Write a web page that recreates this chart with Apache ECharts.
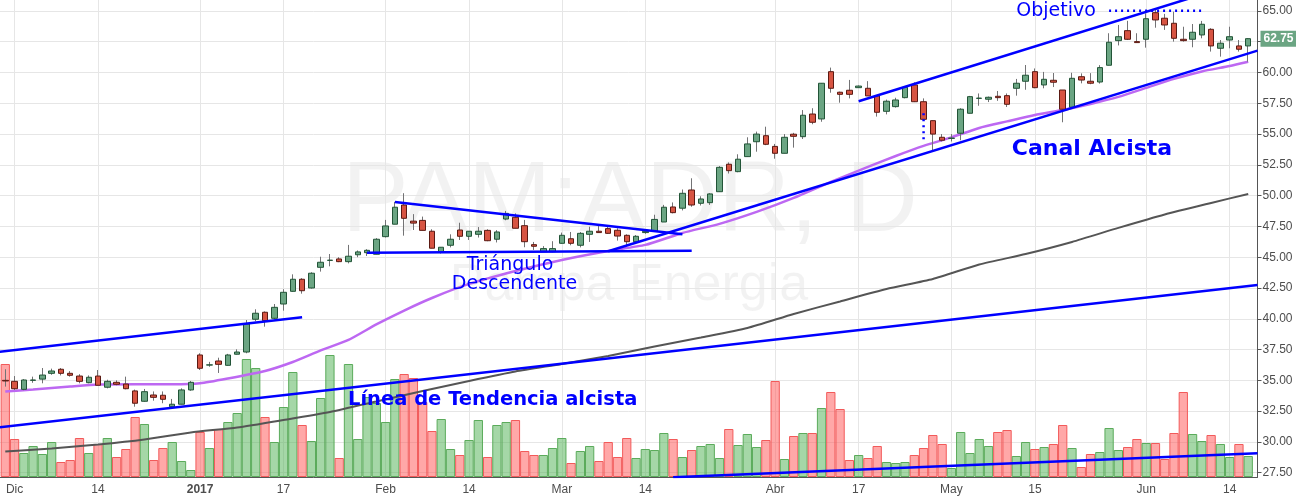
<!DOCTYPE html>
<html><head><meta charset="utf-8">
<script src="https://cdn.jsdelivr.net/npm/echarts@6/dist/echarts.min.js"></script>
<style>html,body{margin:0;padding:0;background:#fff}#c{width:1296px;height:498px}</style>
</head><body><div id="c"></div>
<script>
const dates = ['2016-11-30',
'2016-12-01','2016-12-02','2016-12-05','2016-12-06','2016-12-07','2016-12-08','2016-12-09','2016-12-12','2016-12-13','2016-12-14','2016-12-15','2016-12-16','2016-12-19','2016-12-20','2016-12-21','2016-12-22','2016-12-27','2016-12-28','2016-12-29','2016-12-30',
'2017-01-03','2017-01-04','2017-01-05','2017-01-06','2017-01-09','2017-01-10','2017-01-11','2017-01-12','2017-01-13','2017-01-17','2017-01-18','2017-01-19','2017-01-20','2017-01-23','2017-01-24','2017-01-25','2017-01-26','2017-01-27','2017-01-30','2017-01-31',
'2017-02-01','2017-02-02','2017-02-03','2017-02-06','2017-02-07','2017-02-08','2017-02-09','2017-02-10','2017-02-13','2017-02-14','2017-02-15','2017-02-16','2017-02-17','2017-02-21','2017-02-22','2017-02-23','2017-02-24','2017-02-27','2017-02-28',
'2017-03-01','2017-03-02','2017-03-03','2017-03-06','2017-03-07','2017-03-08','2017-03-09','2017-03-10','2017-03-13','2017-03-14','2017-03-15','2017-03-16','2017-03-17','2017-03-20','2017-03-21','2017-03-22','2017-03-23','2017-03-24','2017-03-27','2017-03-28','2017-03-29','2017-03-30','2017-03-31',
'2017-04-03','2017-04-04','2017-04-05','2017-04-06','2017-04-07','2017-04-10','2017-04-11','2017-04-12','2017-04-13','2017-04-17','2017-04-18','2017-04-19','2017-04-20','2017-04-21','2017-04-24','2017-04-25','2017-04-26','2017-04-27','2017-04-28',
'2017-05-01','2017-05-02','2017-05-03','2017-05-04','2017-05-05','2017-05-09','2017-05-10','2017-05-11','2017-05-12','2017-05-15','2017-05-16','2017-05-17','2017-05-18','2017-05-19','2017-05-22','2017-05-23','2017-05-24','2017-05-25','2017-05-26','2017-05-30','2017-05-31',
'2017-06-01','2017-06-02','2017-06-05','2017-06-06','2017-06-07','2017-06-08','2017-06-09','2017-06-12','2017-06-13','2017-06-14','2017-06-15','2017-06-16'];

const opens = [35.00,
34.92,34.27,35.00,35.10,35.57,35.90,35.57,35.35,34.81,35.35,34.44,34.84,34.70,34.14,33.30,33.81,33.79,32.86,33.06,34.22,
37.06,36.24,36.57,36.22,37.12,37.30,39.96,40.53,40.04,41.20,42.23,43.21,42.50,44.18,44.74,44.86,44.64,45.20,45.37,45.24,
46.67,47.68,49.24,47.93,47.99,47.11,45.45,45.97,47.21,46.70,46.86,47.18,46.46,48.10,48.24,47.56,46.02,45.45,45.45,
46.13,46.50,45.97,46.86,47.11,47.32,47.19,46.78,46.26,47.00,47.10,47.86,49.08,48.98,50.46,49.38,49.43,50.32,52.55,51.95,53.17,54.38,54.87,
54.00,53.44,54.99,54.79,56.63,56.23,60.07,58.40,58.56,58.77,58.72,58.10,56.85,57.23,57.96,58.99,57.63,56.09,54.74,
54.65,55.07,56.69,57.90,57.83,58.07,58.12,58.72,59.29,60.07,58.99,59.37,58.58,57.18,59.66,59.29,59.23,60.59,62.59,63.40,62.51,
62.70,64.86,64.41,64.00,62.70,62.70,63.05,63.51,61.97,62.64,62.16,62.16];

const closes = [34.95,
34.32,35.03,35.03,35.43,35.76,35.57,35.41,34.92,35.25,34.60,34.92,34.68,34.32,33.14,34.08,33.62,33.46,33.06,34.22,34.84,
35.98,36.26,36.30,37.06,37.30,39.58,40.45,39.85,40.93,42.15,43.21,42.28,43.70,44.59,44.76,44.64,45.08,45.43,45.56,46.46,
47.54,49.06,48.16,47.77,47.18,45.73,45.81,46.46,46.70,47.11,47.11,46.34,47.05,48.56,47.35,46.26,45.89,45.70,45.70,
46.78,46.13,46.94,47.11,47.00,46.94,46.72,46.26,46.70,47.10,48.07,49.06,48.62,50.19,49.24,49.73,50.14,52.30,52.03,52.96,54.20,55.00,54.17,
53.44,54.74,54.82,56.53,55.96,59.13,58.72,58.23,58.23,58.90,58.10,56.77,57.67,57.77,58.80,57.63,56.20,55.00,54.50,
54.67,57.02,58.04,57.92,57.99,57.96,57.42,59.13,59.78,58.77,59.45,59.21,57.02,59.53,59.39,59.13,60.40,62.46,62.91,62.70,62.43,
64.37,64.27,63.86,62.78,62.59,63.27,63.92,62.16,62.38,62.91,61.89,62.75];

const lows = [34.49,
34.22,34.20,34.80,34.76,35.45,35.40,35.30,34.76,34.76,34.60,34.35,34.60,34.27,32.86,33.27,33.35,33.14,32.80,33.06,34.15,
35.84,36.10,35.60,36.20,37.10,37.20,39.80,39.36,39.95,40.66,42.20,42.04,42.45,43.83,44.26,44.60,44.50,45.00,45.10,45.24,
46.60,47.68,46.75,47.21,47.18,45.73,45.30,45.80,46.40,46.40,46.60,46.30,46.20,48.00,47.35,45.81,45.59,45.45,45.40,
46.10,45.97,45.80,46.24,47.00,46.90,46.35,45.97,46.24,46.90,47.10,47.86,48.56,48.80,49.10,49.20,49.25,50.32,51.80,51.90,53.17,53.57,54.10,
53.00,53.44,53.90,54.60,55.80,56.00,58.36,57.55,57.90,58.77,58.10,56.42,56.60,57.15,57.90,57.60,56.20,53.70,54.40,
54.40,54.50,56.69,57.30,57.60,57.70,57.20,58.12,58.60,58.72,58.72,58.82,55.96,57.10,59.12,59.05,59.10,60.59,62.20,62.64,62.43,
62.02,63.64,63.46,62.51,62.51,62.05,62.78,61.70,61.29,61.97,61.70,60.88];

const highs = [35.90,
35.35,35.10,35.30,36.00,35.95,36.00,35.75,35.50,35.40,35.84,35.05,35.00,35.30,34.25,34.30,34.10,34.10,33.49,34.35,34.95,
37.20,36.50,36.84,37.15,37.52,39.90,40.77,40.60,41.20,42.40,43.61,43.30,43.78,45.04,45.26,45.00,46.00,45.55,45.65,46.55,
48.03,49.49,50.20,48.50,48.30,47.27,45.81,46.86,47.80,47.11,47.45,47.27,47.20,48.76,48.56,48.03,46.24,45.90,46.30,
47.00,47.05,47.05,47.48,47.55,47.45,47.35,46.86,46.80,47.20,48.45,49.25,49.45,50.50,51.41,49.95,50.20,52.40,52.70,53.36,54.74,55.20,55.60,
54.20,55.00,55.10,56.95,57.10,59.13,60.40,58.45,59.40,58.95,59.30,58.15,57.80,57.95,58.90,59.20,57.90,56.09,55.00,
55.00,57.10,58.10,58.30,58.05,58.50,58.30,59.48,60.61,60.33,60.05,59.96,58.58,59.98,59.93,59.95,60.60,63.19,63.86,64.20,63.19,
64.81,65.08,64.76,64.94,63.72,63.94,64.19,63.60,62.64,63.72,62.64,62.78];

// volume, thousands of shares
const volumes = [565,
190,120,155,115,175,75,85,195,120,165,195,100,140,300,265,85,145,175,80,35,
225,145,240,275,320,590,545,300,175,350,525,260,180,395,610,95,565,190,400,370,
275,490,515,495,375,230,290,140,110,185,285,100,260,275,285,130,110,110,145,
195,70,130,155,80,175,100,195,95,140,135,220,190,100,135,155,165,95,240,160,215,150,185,
480,90,205,220,220,345,425,340,85,110,95,155,75,70,75,110,145,210,165,
45,225,120,190,155,225,235,105,175,140,150,165,260,145,50,115,125,245,135,150,190,
170,170,90,220,425,215,180,210,165,100,165,105];

// moving averages (date, value)
const maPurple = [['2016-11-30',34.09],['2016-12-05',34.26],['2016-12-09',34.50],['2016-12-14',34.66],['2016-12-20',34.68],['2016-12-28',34.68],['2017-01-03',34.76],['2017-01-06',35.15],['2017-01-12',35.76],['2017-01-18',36.49],['2017-01-23',37.43],['2017-01-26',38.28],['2017-01-31',39.54],['2017-02-03',40.67],['2017-02-08',41.69],['2017-02-14',42.83],['2017-02-22',43.88],['2017-03-01',44.78],['2017-03-08',45.51],['2017-03-14',46.00],['2017-03-20',46.97],['2017-03-24',47.71],['2017-03-30',48.68],['2017-04-05',49.82],['2017-04-11',51.12],['2017-04-18',52.33],['2017-04-21',53.22],['2017-04-26',54.04],['2017-05-01',54.73],['2017-05-04',55.50],['2017-05-10',56.03],['2017-05-15',56.55],['2017-05-18',56.96],['2017-05-23',57.45],['2017-05-26',58.02],['2017-06-01',58.75],['2017-06-06',59.48],['2017-06-09',60.09],['2017-06-14',60.53],['2017-06-16',60.88]];
const maGray = [['2016-11-30',29.23],['2016-12-07',29.47],['2016-12-14',29.79],['2016-12-21',30.20],['2016-12-30',30.77],['2017-01-09',31.17],['2017-01-17',31.78],['2017-01-24',32.43],['2017-01-31',33.28],['2017-02-07',34.14],['2017-02-14',34.95],['2017-02-22',35.72],['2017-03-01',36.33],['2017-03-08',36.98],['2017-03-15',37.75],['2017-03-22',38.48],['2017-03-29',39.25],['2017-04-05',40.39],['2017-04-12',41.41],['2017-04-20',42.42],['2017-04-27',43.23],['2017-05-04',44.41],['2017-05-12',45.26],['2017-05-19',46.24],['2017-05-26',47.38],['2017-06-05',48.47],['2017-06-12',49.41],['2017-06-16',50.14]];

// drawn annotation lines (endpoints: date, price)
const lineaTendencia = [['pre',31.15],['post',42.75]];
const resistenciaDic = [['pre',37.29],['2017-01-19',40.12]];
const trianguloSup = [['2017-02-02',49.49],['2017-03-20',46.86]];
const trianguloBase = [['2017-01-30',45.37],['2017-03-21',45.53]];
const canalInf = [['2017-03-08',45.49],['post',61.78]];
const canalSup = [['2017-04-17',57.67],['post',67.74]];
const lineaVolumen = [['2017-03-17',27.12],['post',29.08]];
const objetivo = [['2017-05-25',65.02],['2017-06-09',65.02]];
const caida = [['2017-04-26',56.69],['2017-04-26',54.52]];

const tickDates = ['2016-12-01','2016-12-14','2017-01-03','2017-01-17','2017-02-01','2017-02-14','2017-03-01','2017-03-14','2017-04-03','2017-04-17','2017-05-01','2017-05-15','2017-06-01','2017-06-14'];
const tickTexts = ['Dic','14','2017','17','Feb','14','Mar','14','Abr','17','May','15','Jun','14'];
const priceTicks = [27.5,30,32.5,35,37.5,40,42.5,45,47.5,50,52.5,55,57.5,60,62.5,65];

const cats = ['pre'].concat(dates, ['post']);
const pad = a => ['-'].concat(a, ['-']);
const bodies = dates.map((d,i) => [opens[i], closes[i], Math.min(opens[i],closes[i]), Math.max(opens[i],closes[i])]);
const wicks = dates.map((d,i) => [lows[i], highs[i], lows[i], highs[i]]);
const volUp = {color:'rgba(76,175,80,0.5)', borderColor:'#5bab5b'};
const volDown = {color:'rgba(255,82,82,0.5)', borderColor:'#f25a5a'};
const volData = dates.map((d,i) => ({value: volumes[i], itemStyle: closes[i] >= opens[i] ? volUp : volDown}));
const isTick = (idx, v) => tickDates.indexOf(v) >= 0;
const BLUE = '#0000ff';
const FONT_AX = '"Liberation Sans", Arial, sans-serif';
const FONT_ANN = '"DejaVu Sans", Verdana, sans-serif';

function annot(data, dotted) {
  return {type:'line', data:data, symbol:'none', silent:true, z:10, animation:false,
    lineStyle:{color:BLUE, width:2.5, type: dotted ? [2,4] : 'solid'}};
}

const chart = echarts.init(document.getElementById('c'), null, {renderer:'canvas'});
chart.setOption({
  animation:false,
  backgroundColor:'#ffffff',
  grid:{left:-4, right:38.5, top:0, bottom:21, containLabel:false, outerBoundsMode:'none'},
  xAxis:{type:'category', data:cats, boundaryGap:false,
    axisLine:{show:true, onZero:false, lineStyle:{color:'#555555', width:1}},
    axisTick:{show:false},
    axisLabel:{interval:isTick, color:'#4d4d4d', fontSize:12, fontFamily:FONT_AX, margin:7,
      formatter:(v) => { const t = tickTexts[tickDates.indexOf(v)]; return /^\d{4}$/.test(t) ? '{y|'+t+'}' : t; },
      rich:{y:{fontWeight:'bold', fontSize:12, color:'#4d4d4d', fontFamily:FONT_AX}}},
    splitLine:{show:true, interval:isTick, lineStyle:{color:'#e6e6e6', width:1}}
  },
  yAxis:[
    {type:'value', position:'right', min:27.15, max:65.89,
      axisLine:{show:true, lineStyle:{color:'#555555', width:1}},
      axisTick:{show:true, length:4, lineStyle:{color:'#555555'}, customValues:priceTicks},
      axisLabel:{color:'#4d4d4d', fontSize:12, fontFamily:FONT_AX, margin:5, customValues:priceTicks,
        formatter:(v) => Number(v).toFixed(2)},
      splitLine:{show:true, lineStyle:{color:'#e6e6e6', width:1}}
    },
    {type:'value', min:0, max:2385, show:false, splitLine:{show:false}}
  ],
  graphic:[
    {type:'text', silent:true, z:0, x:630, y:203, style:{text:'PAM:ADR, D', font:'100px "Liberation Sans", Arial, sans-serif', fill:'rgba(0,0,0,0.05)', align:'center', verticalAlign:'middle', textAlign:'center', textVerticalAlign:'middle'}},
    {type:'text', silent:true, z:0, x:629, y:286, style:{text:'Pampa Energia', font:'52px "Liberation Sans", Arial, sans-serif', fill:'rgba(0,0,0,0.05)', align:'center', verticalAlign:'middle', textAlign:'center', textVerticalAlign:'middle'}},
    {type:'text', silent:true, z:100, x:1056, y:11, style:{text:'Objetivo', font:'19px '+FONT_ANN, fill:BLUE, align:'center', verticalAlign:'middle', textAlign:'center', textVerticalAlign:'middle'}},
    {type:'text', silent:true, z:100, x:1092, y:149, style:{text:'Canal Alcista', font:'bold 22px '+FONT_ANN, fill:BLUE, align:'center', verticalAlign:'middle', textAlign:'center', textVerticalAlign:'middle'}},
    {type:'text', silent:true, z:100, x:510, y:265, style:{text:'Triángulo', font:'19px '+FONT_ANN, fill:BLUE, align:'center', verticalAlign:'middle', textAlign:'center', textVerticalAlign:'middle'}},
    {type:'text', silent:true, z:100, x:514.5, y:284, style:{text:'Descendente', font:'19px '+FONT_ANN, fill:BLUE, align:'center', verticalAlign:'middle', textAlign:'center', textVerticalAlign:'middle'}},
    {type:'text', silent:true, z:100, x:348, y:400, style:{text:'Línea de Tendencia alcista', font:'bold 19.5px '+FONT_ANN, fill:BLUE, align:'left', verticalAlign:'middle', textAlign:'left', textVerticalAlign:'middle'}}
  ],
  series:[
    {name:'Volumen', type:'bar', xAxisIndex:0, yAxisIndex:1, data:pad(volData), barWidth:'100%', z:1, silent:true,
      itemStyle:{borderWidth:1}},
    {name:'MA lenta', type:'line', data:maGray, symbol:'none', smooth:0.2, z:2, silent:true,
      lineStyle:{color:'#555555', width:2}},
    {name:'MA rápida', type:'line', data:maPurple, symbol:'none', smooth:0.2, z:2, silent:true,
      lineStyle:{color:'#bd68f2', width:2.5}},
    {name:'Mechas', type:'candlestick', data:pad(wicks), barWidth:0.01, z:3, silent:true,
      itemStyle:{color:'#737375', color0:'#737375', borderColor:'#737375', borderColor0:'#737375', borderColorDoji:'#737375', borderWidth:1}},
    {name:'PAM', type:'candlestick', data:pad(bodies), barWidth:6, z:4, silent:true,
      itemStyle:{color:'#6ba583', color0:'#d75442', borderColor:'#225437', borderColor0:'#5b1a13', borderColorDoji:'#225437', borderWidth:1},
      markLine:{silent:true, symbol:['none','none'], animation:false,
        lineStyle:{color:'rgba(0,0,0,0)', width:0},
        label:{show:true, position:'end', distance:3, formatter:(p) => Number(p.value).toFixed(2),
          backgroundColor:'#6ba583', color:'#ffffff', fontWeight:'bold', fontSize:12, fontFamily:FONT_AX, padding:[2,3,2,3]},
        data:[{yAxis: closes[closes.length-1]}]}
    },
    annot(lineaTendencia), annot(resistenciaDic), annot(trianguloSup), annot(trianguloBase),
    annot(canalInf), annot(canalSup), annot(lineaVolumen), annot(objetivo, true), annot(caida, true)
  ]
});
</script>
</body></html>
